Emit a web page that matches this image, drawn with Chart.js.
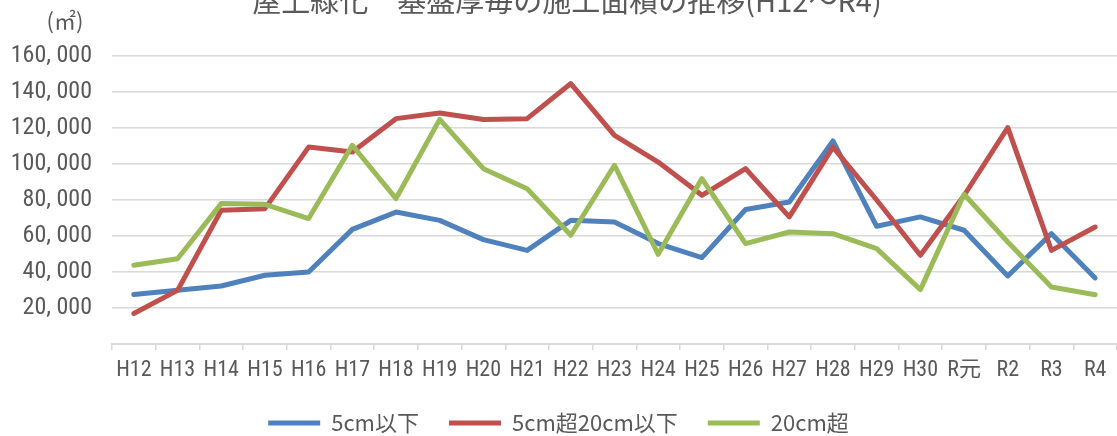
<!DOCTYPE html>
<html>
<head>
    <meta charset="utf-8">
    <title>屋上緑化 基盤厚毎の施工面積の推移</title>
    <script src="https://cdn.jsdelivr.net/npm/chart.js"></script>
    <style>
        body { margin: 0; background: #fff; }
        #wrap { position: relative; width: 1117px; height: 436px; }
    </style>
</head>
<body>
    <div id="wrap">
        <canvas id="greeningChart"></canvas>
    </div>

    <script>
        // years (Heisei 12 - Reiwa 4)
        const years = ['H12', 'H13', 'H14', 'H15', 'H16', 'H17', 'H18', 'H19', 'H20', 'H21', 'H22', 'H23',
                       'H24', 'H25', 'H26', 'H27', 'H28', 'H29', 'H30', 'R元', 'R2', 'R3', 'R4'];

        // construction area (m2) by substrate thickness
        const under5cm = [27500, 29800, 32200, 38200, 40000, 63700, 73300, 68700, 58000, 52000, 68700, 67800,
                          55800, 48000, 74700, 78900, 112800, 65400, 70600, 63200, 37800, 61300, 36700];
        const from5to20cm = [16900, 29800, 74300, 75200, 109400, 106700, 125200, 128300, 124700, 125200, 144700, 115900,
                             101100, 82600, 97400, 70600, 109400, 80000, 49300, 82500, 120200, 52000, 65000];
        const over20cm = [43700, 47400, 78000, 77600, 69700, 110400, 80800, 124800, 97400, 86300, 60400, 99300,
                          49800, 91900, 55800, 62200, 61300, 53000, 30200, 83200, 56700, 31700, 27400];

        const seriesNames = ['5cm以下', '5cm超20cm以下', '20cm超'];
        const yTicks = [0, 20000, 40000, 60000, 80000, 100000, 120000, 140000, 160000];

        const chartTitle = '屋上緑化　基盤厚毎の施工面積の推移(H12〜R4)';
        const unitLabel = '(㎡)';

        const grey = '#595959';
        const gridGrey = '#d9d9d9';
        const narrowFont = "'Liberation Sans Narrow', 'Roboto Condensed', 'Noto Sans CJK JP', sans-serif";
        const cjkFont = "'Noto Sans CJK JP', 'Noto Sans', sans-serif";

        function series(label, data, color, order) {
            return {
                label: label,
                data: data,
                borderColor: color,
                backgroundColor: color,
                borderWidth: 5,
                borderCapStyle: 'round',
                borderJoinStyle: 'round',
                pointRadius: 0,
                pointHoverRadius: 0,
                tension: 0,
                fill: false,
                order: order
            };
        }

        // title and unit text sit outside the plot, drawn by hand
        const titlePlugin = {
            id: 'titleText',
            afterDraw(chart) {
                const ctx = chart.ctx;
                ctx.save();
                ctx.fillStyle = grey;
                ctx.textAlign = 'center';
                ctx.textBaseline = 'alphabetic';
                ctx.font = '29px ' + cjkFont;
                ctx.fillText(chartTitle, 567, 12);
                ctx.font = '22px ' + cjkFont;
                ctx.fillText(unitLabel, 65, 29);
                ctx.restore();
            }
        };

        // legend padding is wide for item spacing; keep the box itself short
        const legendHeightPlugin = {
            id: 'legendHeight',
            beforeLayout(chart) {
                const lg = chart.legend;
                if (lg && !lg._fitPatched) {
                    const fit = lg.fit;
                    lg.fit = function () {
                        fit.call(this);
                        this.height = 54;
                    };
                    lg._fitPatched = true;
                }
            }
        };

        const ctx = document.getElementById('greeningChart').getContext('2d');
        const greeningChart = new Chart(ctx, {
            type: 'line',
            data: {
                labels: years,
                datasets: [
                    series(seriesNames[0], under5cm, '#4f81bd', 2),
                    series(seriesNames[1], from5to20cm, '#c0504d', 1),
                    series(seriesNames[2], over20cm, '#9bbb59', 0)
                ]
            },
            options: {
                responsive: true,
                maintainAspectRatio: false,
                animation: false,
                layout: {
                    padding: { top: 56, right: 0, bottom: 0, left: 0 }
                },
                plugins: {
                    title: { display: false },
                    tooltip: { enabled: false },
                    legend: {
                        position: 'bottom',
                        labels: {
                            usePointStyle: true,
                            pointStyle: 'line',
                            pointStyleWidth: 52,
                            padding: 30,
                            color: grey,
                            font: { family: cjkFont, size: 22 },
                            sort: (a, b) => a.datasetIndex - b.datasetIndex
                        }
                    }
                },
                scales: {
                    x: {
                        offset: true,
                        grid: {
                            display: true,
                            drawOnChartArea: false,
                            drawTicks: true,
                            tickLength: 6,
                            offset: true,
                            color: gridGrey,
                            lineWidth: 1.5
                        },
                        border: { display: true, color: gridGrey, width: 2 },
                        ticks: {
                            color: grey,
                            padding: 7,
                            maxRotation: 0,
                            autoSkip: false,
                            font: { family: narrowFont, size: 22 }
                        },
                        afterFit(scale) { scale.height = 38; }
                    },
                    y: {
                        min: 0,
                        max: 160000,
                        afterBuildTicks(scale) {
                            scale.ticks = yTicks.map(v => ({ value: v }));
                        },
                        grid: {
                            color: gridGrey,
                            lineWidth: 1.5,
                            drawTicks: false
                        },
                        border: { display: false },
                        ticks: {
                            color: grey,
                            padding: 20,
                            font: { family: narrowFont, size: 24 },
                            callback: v => v === 0 ? '' : v.toLocaleString('en-US').replace(',', ', ')
                        },
                        afterFit(scale) { scale.width = 112; }
                    }
                }
            },
            plugins: [titlePlugin, legendHeightPlugin]
        });
    </script>
</body>
</html>
